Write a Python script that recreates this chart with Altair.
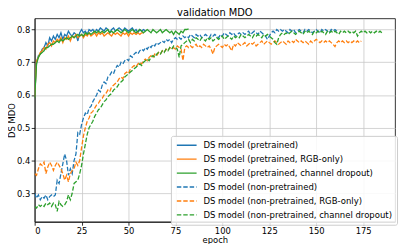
import altair as alt
import pandas as pd

names = [
    "DS model (pretrained)",
    "DS model (pretrained, RGB-only)",
    "DS model (pretrained, channel dropout)",
    "DS model (non-pretrained)",
    "DS model (non-pretrained, RGB-only)",
    "DS model (non-pretrained, channel dropout)",
]
colors = ["#1f77b4", "#ff7f0e", "#2ca02c", "#1f77b4", "#ff7f0e", "#2ca02c"]
dashes = [[1, 0], [1, 0], [1, 0], [4.5, 2], [4.5, 2], [4.5, 2]]

x_ticks = [0, 25, 50, 75, 100, 125, 150, 175]
y_ticks = [0.3, 0.4, 0.5, 0.6, 0.7, 0.8]

pre_blue = [
    0.595, 0.700, 0.720, 0.725, 0.740, 0.745, 0.760, 0.750, 0.775, 0.765,
    0.780, 0.770, 0.785, 0.775, 0.790, 0.770, 0.785, 0.780, 0.795, 0.785,
    0.780, 0.790, 0.785, 0.765, 0.790, 0.800, 0.790, 0.795, 0.785, 0.800,
    0.795, 0.800, 0.790, 0.800, 0.795, 0.805, 0.800, 0.795, 0.805, 0.800,
    0.790, 0.800, 0.805, 0.795, 0.800, 0.805, 0.800, 0.795, 0.805, 0.800,
    0.795, 0.800, 0.805, 0.795, 0.800, 0.790, 0.800, 0.795, 0.800, 0.795,
]
pre_orange = [
    0.595, 0.705, 0.715, 0.730, 0.735, 0.745, 0.740, 0.755, 0.760, 0.750,
    0.765, 0.760, 0.770, 0.765, 0.775, 0.760, 0.775, 0.770, 0.780, 0.765,
    0.780, 0.775, 0.785, 0.775, 0.780, 0.785, 0.775, 0.785, 0.780, 0.790,
    0.780, 0.785, 0.790, 0.780, 0.790, 0.785, 0.790, 0.780, 0.785, 0.790,
    0.785, 0.780, 0.790, 0.785, 0.790, 0.785, 0.780, 0.790, 0.785, 0.790,
    0.780, 0.790, 0.785, 0.790, 0.785, 0.790, 0.785, 0.790, 0.790,
]
pre_green = [
    0.590, 0.695, 0.715, 0.725, 0.730, 0.735, 0.745, 0.745, 0.750, 0.755,
    0.755, 0.760, 0.765, 0.760, 0.770, 0.765, 0.770, 0.775, 0.770, 0.775,
    0.780, 0.775, 0.780, 0.785, 0.780, 0.785, 0.780, 0.790, 0.785, 0.790,
    0.785, 0.790, 0.795, 0.790, 0.795, 0.790, 0.795, 0.790, 0.795, 0.800,
    0.790, 0.795, 0.790, 0.795, 0.800, 0.795, 0.790, 0.795, 0.800, 0.795,
    0.790, 0.795, 0.800, 0.795, 0.790, 0.795, 0.800, 0.795, 0.790, 0.795,
    0.800, 0.795, 0.790, 0.800, 0.795, 0.790, 0.795, 0.800, 0.790, 0.795,
    0.800, 0.795, 0.790, 0.795, 0.785, 0.795, 0.790, 0.785, 0.795, 0.790,
    0.800, 0.800, 0.802,
]
np_blue = [
    0.300, 0.285, 0.295, 0.280, 0.290, 0.285, 0.295, 0.280, 0.290, 0.295,
    0.290, 0.295, 0.340, 0.330, 0.360, 0.390, 0.420, 0.400, 0.355, 0.375,
    0.360, 0.400, 0.420, 0.485, 0.480, 0.510, 0.530, 0.545, 0.540, 0.560,
    0.565, 0.580, 0.590, 0.600, 0.615, 0.610, 0.630, 0.640, 0.635, 0.655,
    0.660, 0.670, 0.665, 0.680, 0.690, 0.685, 0.700, 0.695, 0.705, 0.710,
    0.705, 0.720, 0.715, 0.725, 0.730, 0.725, 0.735, 0.740, 0.735, 0.745,
    0.740, 0.750, 0.745, 0.755, 0.750, 0.760, 0.755, 0.760, 0.765, 0.760,
    0.770, 0.765, 0.770, 0.760, 0.770, 0.775, 0.770, 0.775, 0.770, 0.780,
    0.775, 0.780, 0.775, 0.785, 0.780, 0.775, 0.785, 0.780, 0.785, 0.775,
    0.780, 0.785, 0.780, 0.775, 0.785, 0.780, 0.785, 0.780, 0.775, 0.785,
    0.780, 0.790, 0.785, 0.780, 0.790, 0.785, 0.790, 0.780, 0.785, 0.790,
    0.785, 0.790, 0.785, 0.790, 0.795, 0.785, 0.790, 0.795, 0.790, 0.785,
    0.795, 0.790, 0.785, 0.780, 0.770, 0.780, 0.790, 0.795, 0.790, 0.800,
    0.795, 0.800, 0.795, 0.800, 0.795, 0.790, 0.800, 0.795, 0.800, 0.790,
    0.795, 0.800, 0.795, 0.790, 0.800, 0.795, 0.800, 0.795, 0.790, 0.795,
    0.800, 0.795, 0.790, 0.800, 0.795, 0.800, 0.795, 0.790, 0.800, 0.795,
    0.800, 0.795,
]
np_orange = [
    0.360, 0.355, 0.375, 0.390, 0.385, 0.395, 0.360, 0.380, 0.395, 0.385,
    0.370, 0.385, 0.395, 0.385, 0.375, 0.360, 0.340, 0.355, 0.335, 0.360,
    0.370, 0.375, 0.395, 0.385, 0.400, 0.440, 0.475, 0.500, 0.520, 0.530,
    0.545, 0.550, 0.560, 0.570, 0.575, 0.585, 0.590, 0.600, 0.605, 0.615,
    0.610, 0.625, 0.630, 0.635, 0.640, 0.650, 0.655, 0.650, 0.665, 0.670,
    0.665, 0.680, 0.685, 0.690, 0.685, 0.695, 0.700, 0.695, 0.705, 0.710,
    0.705, 0.715, 0.720, 0.715, 0.725, 0.720, 0.730, 0.725, 0.735, 0.730,
    0.740, 0.735, 0.745, 0.740, 0.745, 0.740, 0.750, 0.745, 0.740, 0.705,
    0.745, 0.750, 0.745, 0.750, 0.745, 0.750, 0.755, 0.745, 0.750, 0.745,
    0.755, 0.750, 0.745, 0.750, 0.740, 0.725, 0.745, 0.750, 0.755, 0.750,
    0.745, 0.755, 0.750, 0.755, 0.745, 0.735, 0.755, 0.750, 0.760, 0.755,
    0.750, 0.755, 0.760, 0.750, 0.755, 0.760, 0.755, 0.760, 0.750, 0.755,
    0.760, 0.765, 0.755, 0.760, 0.765, 0.760, 0.755, 0.760, 0.765, 0.760,
    0.755, 0.760, 0.765, 0.760, 0.755, 0.765, 0.760, 0.765, 0.760, 0.770,
    0.765, 0.760, 0.765, 0.760, 0.765, 0.760, 0.755, 0.765, 0.760, 0.765,
    0.770, 0.765, 0.760, 0.765, 0.760, 0.765, 0.760, 0.765, 0.760, 0.755,
    0.748, 0.760, 0.765, 0.760, 0.765, 0.760, 0.765, 0.760, 0.765, 0.760,
    0.765, 0.760, 0.765, 0.760, 0.765,
]
np_green = [
    0.260, 0.255, 0.265, 0.260, 0.265, 0.260, 0.270, 0.265, 0.270, 0.260,
    0.270, 0.265, 0.245, 0.275, 0.265, 0.260, 0.265, 0.275, 0.295, 0.280,
    0.300, 0.330, 0.335, 0.340, 0.360, 0.385, 0.420, 0.450, 0.480, 0.500,
    0.510, 0.520, 0.535, 0.545, 0.555, 0.560, 0.570, 0.580, 0.585, 0.595,
    0.600, 0.605, 0.615, 0.620, 0.625, 0.635, 0.640, 0.645, 0.655, 0.660,
    0.665, 0.670, 0.675, 0.680, 0.685, 0.690, 0.695, 0.690, 0.700, 0.705,
    0.710, 0.705, 0.715, 0.720, 0.715, 0.725, 0.730, 0.725, 0.735, 0.730,
    0.740, 0.735, 0.745, 0.740, 0.750, 0.745, 0.740, 0.715, 0.750, 0.755,
    0.760, 0.765, 0.770, 0.760, 0.770, 0.765, 0.775, 0.770, 0.765, 0.775,
    0.770, 0.765, 0.775, 0.770, 0.775, 0.765, 0.770, 0.775, 0.770, 0.775,
    0.780, 0.770, 0.775, 0.780, 0.775, 0.770, 0.780, 0.775, 0.780, 0.775,
    0.785, 0.780, 0.775, 0.780, 0.785, 0.780, 0.775, 0.785, 0.780, 0.785,
    0.780, 0.775, 0.785, 0.780, 0.785, 0.780, 0.775, 0.770, 0.760, 0.755,
    0.775, 0.785, 0.790, 0.785, 0.790, 0.785, 0.790, 0.795, 0.790, 0.785,
    0.790, 0.795, 0.790, 0.785, 0.795, 0.790, 0.795, 0.790, 0.785, 0.795,
    0.790, 0.795, 0.790, 0.795, 0.790, 0.785, 0.795, 0.790, 0.795, 0.790,
    0.795, 0.790, 0.785, 0.795, 0.790, 0.795, 0.790, 0.795, 0.790, 0.795,
    0.790, 0.795, 0.780, 0.790, 0.795, 0.790, 0.795, 0.790, 0.795, 0.790,
    0.795, 0.790, 0.795, 0.790, 0.795, 0.790,
]

series_values = [pre_blue, pre_orange, pre_green, np_blue, np_orange, np_green]
rows = []
for name, vals in zip(names, series_values):
    for i, v in enumerate(vals):
        rows.append({"series": name, "epoch": i, "mdo": v})
df = pd.DataFrame(rows)

FONT = "DejaVu Sans"

legend = alt.Legend(
    title=None,
    orient="none",
    legendX=138,
    legendY=119,
    symbolType="stroke",
    symbolSize=400,
    symbolStrokeWidth=1.4,
    clipHeight=9,
    labelFont=FONT,
    labelFontSize=8.6,
    labelColor="black",
    labelLimit=400,
    labelOffset=6,
    fillColor="rgba(255,255,255,0.85)",
    strokeColor="#cccccc",
    cornerRadius=2,
    padding=5,
    rowPadding=4.1,
)

chart = (
    alt.Chart(df)
    .mark_line(strokeWidth=1.3, clip=True)
    .encode(
        x=alt.X(
            "epoch:Q",
            scale=alt.Scale(domain=[0, 192], nice=False, zero=False),
            axis=alt.Axis(values=x_ticks, title="epoch", format="d"),
        ),
        y=alt.Y(
            "mdo:Q",
            scale=alt.Scale(domain=[0.213, 0.834], nice=False, zero=False),
            axis=alt.Axis(values=y_ticks, title="DS MDO", format=".1f",
                          titleX=-23, titleY=103, titleAlign="center",
                          titleBaseline="middle", titleAngle=270),
        ),
        color=alt.Color("series:N", scale=alt.Scale(domain=names, range=colors), legend=legend),
        strokeDash=alt.StrokeDash("series:N", scale=alt.Scale(domain=names, range=dashes), legend=legend),
    )
    .properties(
        width=365,
        height=206,
        title=alt.Title("validation MDO", font=FONT, fontSize=10, fontWeight="normal",
                        color="black", offset=1, baseline="alphabetic", dy=8.5),
        autosize=alt.AutoSizeParams(type="none"),
        padding={"left": 27, "top": 9, "right": 4, "bottom": 21},
    )
    .configure_view(stroke="black", strokeWidth=0.8)
    .configure_axis(
        labelFont=FONT,
        labelFontSize=8.5,
        labelColor="black",
        titleFont=FONT,
        titleFontSize=8.5,
        titleFontWeight="normal",
        titleColor="black",
        tickColor="black",
        tickSize=3.5,
        tickWidth=0.8,
        labelPadding=1.5,
        domainColor="black",
        domainWidth=0.8,
        gridColor="#c8c8c8",
        gridWidth=0.8,
        titlePadding=1,
    )
)

chart.save("out.html", embed_options={"renderer": "svg", "actions": False})
